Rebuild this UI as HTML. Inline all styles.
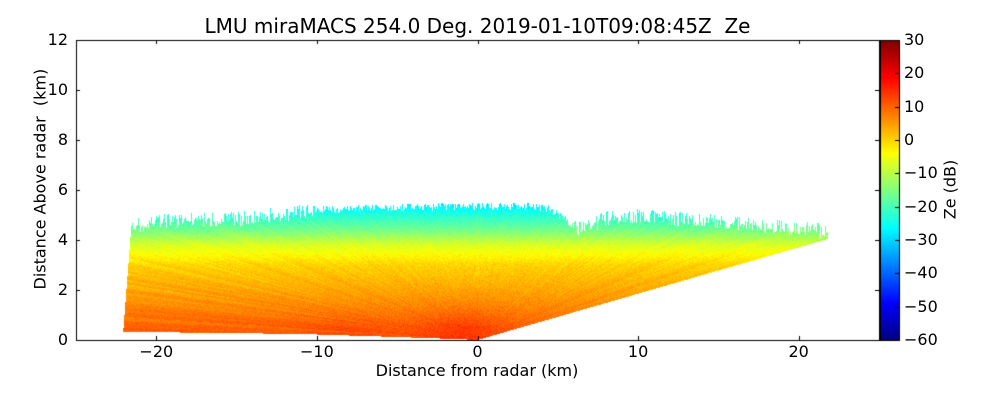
<!DOCTYPE html>
<html><head><meta charset="utf-8">
<style>
body{margin:0;background:#fff;width:1000px;height:400px;overflow:hidden;font-family:"DejaVu Sans","Liberation Sans",sans-serif;}
#wrap{position:relative;width:1000px;height:400px;}
.t{position:absolute;font-size:16px;color:#000;white-space:nowrap;}
canvas{position:absolute;left:0;top:0;}
</style></head>
<body>
<div id="wrap">
<canvas id="c" width="1000" height="400"></canvas>
<div class="t" style="left:0;width:955px;text-align:center;top:14px;font-size:20px;">LMU miraMACS 254.0 Deg. 2019-01-10T09:08:45Z&nbsp; Ze</div>
<div class="t" style="left:277px;width:400px;text-align:center;top:361px;">Distance from radar (km)</div>
<div class="t" style="left:-60px;top:180px;width:200px;text-align:center;transform:rotate(-90deg);">Distance Above radar&nbsp; (km)</div>
<div class="t" style="left:900px;top:180px;width:100px;text-align:center;transform:rotate(-90deg);">Ze (dB)</div>
<div id="labels"></div>
</div>
<script>
// axis ranges
const xTicks=[-20,-10,0,10,20];
const yTicks=[0,2,4,6,8,10,12];
const cbTicks=[30,20,10,0,-10,-20,-30,-40,-50,-60];
// echo top / bottom geometry (km)
const topX=[-22,-20,-17,-15,-12,-10,-5,0,3,4.5,5.5,6.5,8,10,15,18,20,22];
const topY=[4.5,4.75,4.8,4.85,5.05,5.2,5.3,5.35,5.35,5.25,4.8,4.4,4.85,4.95,4.75,4.55,4.45,4.35];
const botLeftX=[-22,-15,-10,-5,-1,0];
const botLeftY=[0.32,0.28,0.22,0.12,0.03,0];
const rightSlope=[0.185];
// reflectivity profile
const profH=[0,0.5,1,2,3,3.8,4.4,5,5.5];
const profDb=[10,10,8,4,0,-7,-16,-23,-29];

const X0=76,X1=879,Y0=40,Y1=340,xmin=-25,xmax=25,ymin=0,ymax=12,cmin=-60,cmax=30;
const sx=v=>X0+(v-xmin)/(xmax-xmin)*(X1-X0);
const sy=v=>Y1-(v-ymin)/(ymax-ymin)*(Y1-Y0);
const ix=p=>xmin+(p-X0)/(X1-X0)*(xmax-xmin);
const iy=p=>ymin+(Y1-p)/(Y1-Y0)*(ymax-ymin);
function interp(xs,ys,v){if(v<=xs[0])return ys[0];for(let i=1;i<xs.length;i++)if(v<=xs[i]){const t=(v-xs[i-1])/(xs[i]-xs[i-1]);return ys[i-1]+t*(ys[i]-ys[i-1]);}return ys[ys.length-1];}
function jet(t){t=Math.max(0,Math.min(1,t));const r=Math.min(4*t-1.5,-4*t+4.5),g=Math.min(4*t-0.5,-4*t+3.5),b=Math.min(4*t+0.5,-4*t+2.5);const c=v=>Math.round(255*Math.max(0,Math.min(1,v)));return [c(r),c(g),c(b)];}
function hash(a,b){let h=(a*374761393+b*668265263)|0;h=(h^(h>>>13))*1274126177|0;return ((h^(h>>>16))>>>0)/4294967296;}

const cv=document.getElementById('c'),ctx=cv.getContext('2d');
ctx.fillStyle='#fff';ctx.fillRect(0,0,1000,400);
const img=ctx.getImageData(0,0,1000,400),d=img.data;
for(let px=X0;px<X1;px++){
  const x=ix(px+0.5);
  if(x>21.8)continue;
  const top=interp(topX,topY,x)+(hash(px,7)-0.5)*0.3*(x<-10||x>6?2:1);
  const bot=x<0?interp(botLeftX,botLeftY,x):rightSlope[0]*x;
  for(let py=Y0;py<Y1;py++){
    const y=iy(py+0.5);
    if(y<bot||y>top)continue;
    if(x< -22.1+y*0.12)continue;
    const ang=Math.atan2(y,Math.abs(x)+0.01);
    let db=interp(profH,profDb,y)+(hash(px,py)-0.5)*3+(hash(Math.round(ang*250),3)-0.5)*2.5;
    db+=4*Math.exp(-((x+1)*(x+1))/8-(y*y)/1.5);
    db+=2*Math.exp(-((x+8)*(x+8))/10-(y*y)/1);
    const [r,g,b]=jet((db-cmin)/(cmax-cmin));
    const k=(py*1000+px)*4;d[k]=r;d[k+1]=g;d[k+2]=b;d[k+3]=255;
  }
}
// colorbar
const CX0=880,CX1=899;
for(let py=Y0;py<Y1;py++){const [r,g,b]=jet(1-(py-Y0)/(Y1-Y0));for(let px=CX0;px<CX1;px++){const k=(py*1000+px)*4;d[k]=r;d[k+1]=g;d[k+2]=b;d[k+3]=255;}}
ctx.putImageData(img,0,0);
ctx.strokeStyle='#000';ctx.lineWidth=1;
ctx.strokeRect(X0+0.5,Y0+0.5,X1-X0,Y1-Y0);
ctx.strokeRect(CX0+0.5,Y0+0.5,CX1-CX0,Y1-Y0);
ctx.beginPath();
xTicks.forEach(v=>{const p=Math.round(sx(v))+0.5;ctx.moveTo(p,Y1);ctx.lineTo(p,Y1-4);ctx.moveTo(p,Y0);ctx.lineTo(p,Y0+4);});
yTicks.forEach(v=>{const p=Math.round(sy(v))+0.5;ctx.moveTo(X0,p);ctx.lineTo(X0+4,p);ctx.moveTo(X1,p);ctx.lineTo(X1-4,p);});
cbTicks.forEach(v=>{const p=Math.round(Y1-(v-cmin)/(cmax-cmin)*(Y1-Y0))+0.5;ctx.moveTo(CX1,p);ctx.lineTo(CX1-4,p);});
ctx.stroke();
const L=document.getElementById('labels');
function lab(txt,style,name){const e=document.createElement('div');e.className='t';e.textContent=txt;e.style.cssText=style;


L.appendChild(e);}
xTicks.forEach(v=>lab(v<0?'\u2212'+(-v):String(v),`left:${sx(v)-30}px;width:60px;text-align:center;top:342px;`,'x-tick-label'));
yTicks.forEach(v=>lab(String(v),`left:18px;width:50px;text-align:right;top:${sy(v)-10}px;`,'y-tick-label'));
cbTicks.forEach(v=>lab(v<0?'\u2212'+(-v):String(v),`left:904px;top:${Y1-(v-cmin)/(cmax-cmin)*(Y1-Y0)-10}px;`,'colorbar-tick-label'));
</script>
</body></html>
